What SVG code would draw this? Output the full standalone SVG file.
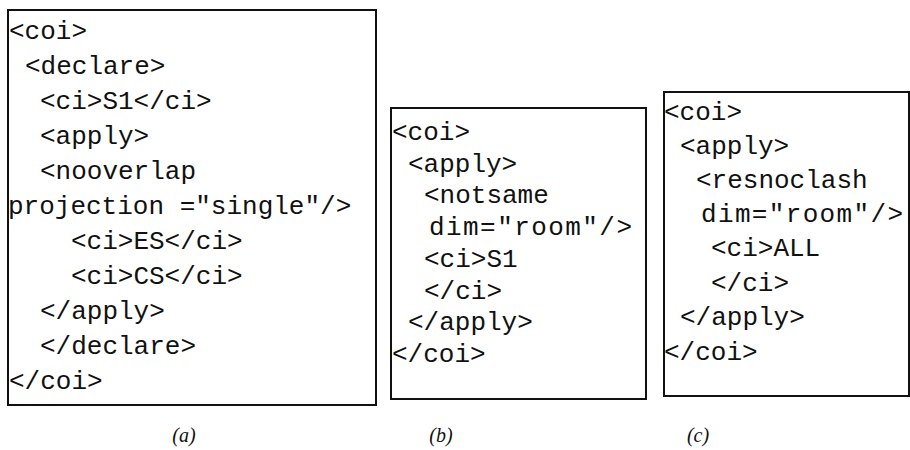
<svg xmlns="http://www.w3.org/2000/svg" width="910" height="450" viewBox="0 0 910 450">
<style>
.box{fill:#fff;stroke:#111;stroke-width:2}
.code{font-family:"Liberation Mono","Courier New",monospace;font-size:26px;fill:#111;white-space:pre}
.lbl{font-family:"Liberation Serif","Times New Roman",serif;font-style:italic;font-size:20px;fill:#111;text-anchor:middle}
</style>
<rect width="910" height="450" fill="#fff"/>
<g id="node-a">
<rect class="box" x="8" y="10" width="368" height="395"/>
<text class="code" x="9" y="39">&lt;coi&gt;</text>
<text class="code" x="25" y="74">&lt;declare&gt;</text>
<text class="code" x="40" y="109">&lt;ci&gt;S1&lt;/ci&gt;</text>
<text class="code" x="40" y="144">&lt;apply&gt;</text>
<text class="code" x="40" y="179">&lt;nooverlap</text>
<text class="code" x="8" y="214">projection ="single"/&gt;</text>
<text class="code" x="71" y="249">&lt;ci&gt;ES&lt;/ci&gt;</text>
<text class="code" x="71" y="284">&lt;ci&gt;CS&lt;/ci&gt;</text>
<text class="code" x="40" y="319">&lt;/apply&gt;</text>
<text class="code" x="40" y="354">&lt;/declare&gt;</text>
<text class="code" x="9" y="389">&lt;/coi&gt;</text>
</g>
<g id="node-b">
<rect class="box" x="391" y="108" width="255" height="291"/>
<text class="code" x="392" y="140">&lt;coi&gt;</text>
<text class="code" x="408" y="171.5">&lt;apply&gt;</text>
<text class="code" x="424" y="203">&lt;notsame</text>
<text class="code" x="429" y="235" textLength="203" lengthAdjust="spacing">dim="room"/&gt;</text>
<text class="code" x="424" y="267">&lt;ci&gt;S1</text>
<text class="code" x="424" y="298.5">&lt;/ci&gt;</text>
<text class="code" x="408" y="330">&lt;/apply&gt;</text>
<text class="code" x="392" y="362">&lt;/coi&gt;</text>
</g>
<g id="node-c">
<rect class="box" x="664" y="92" width="245" height="304"/>
<text class="code" x="664" y="120">&lt;coi&gt;</text>
<text class="code" x="680" y="154">&lt;apply&gt;</text>
<text class="code" x="696" y="188">&lt;resnoclash</text>
<text class="code" x="701" y="222" textLength="202" lengthAdjust="spacing">dim="room"/&gt;</text>
<text class="code" x="711" y="256">&lt;ci&gt;ALL</text>
<text class="code" x="711" y="291">&lt;/ci&gt;</text>
<text class="code" x="680" y="325">&lt;/apply&gt;</text>
<text class="code" x="664" y="360">&lt;/coi&gt;</text>
</g>
<g id="connectors"></g>
<g id="labels">
<text class="lbl" x="184" y="442">(a)</text>
<text class="lbl" x="441" y="442">(b)</text>
<text class="lbl" x="698" y="442">(c)</text>
</g>
</svg>
